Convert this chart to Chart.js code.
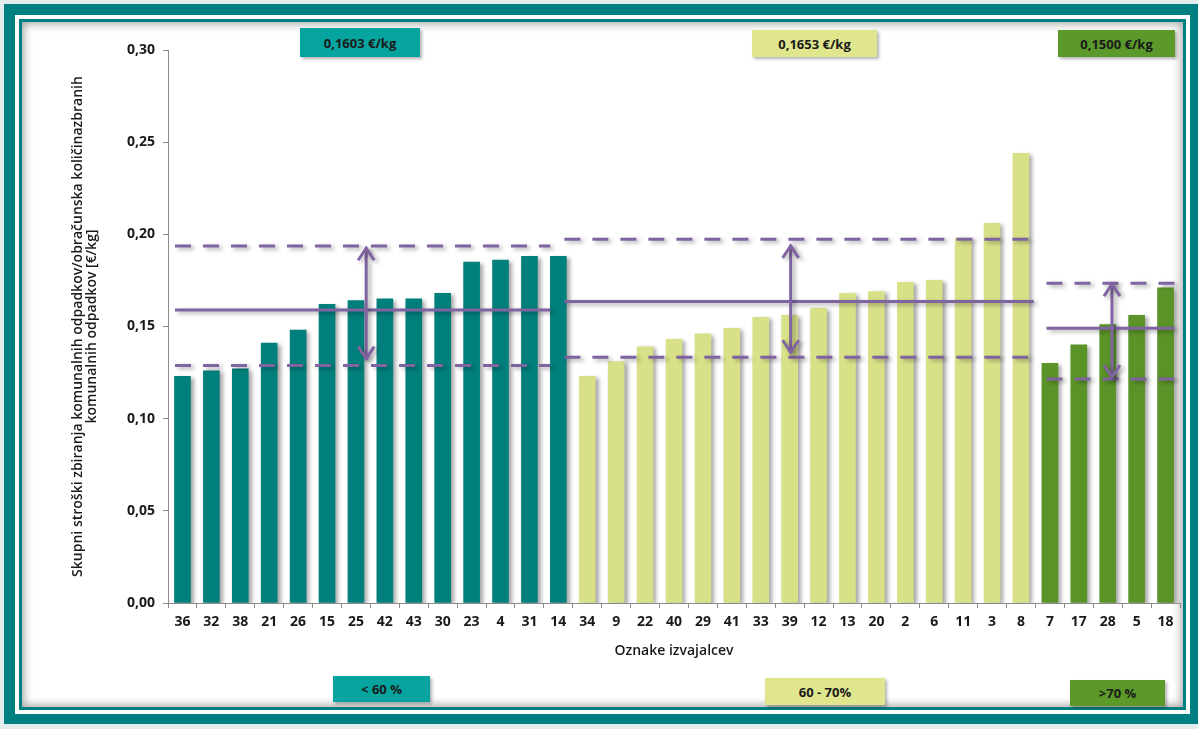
<!DOCTYPE html>
<html>
<head>
  <meta charset="utf-8">
  <title>Skupni stroški zbiranja</title>
  <script src="https://cdn.jsdelivr.net/npm/chart.js@4.4.0/dist/chart.umd.min.js"></script>
  <style>
    body { margin: 0; width: 1198px; height: 729px; background: #e3eded; position: relative; overflow: hidden; font-family: "Open Sans", sans-serif; }
    .frame { position: absolute; }
    #outer { left: 4px; top: 4px; width: 1194px; height: 720px; background: #008080; }
    #gap { left: 15px; top: 15px; width: 1175px; height: 699px; background: #fff; }
    #inner { left: 19px; top: 19px; width: 1161px; height: 685px; border: 3px solid #008080; background: #fff;
      box-shadow: inset 0 0 9px 2px rgba(0, 0, 0, 0.35); }
    #chartBox { position: absolute; left: 0; top: 0; width: 1198px; height: 729px; }
    .tag { position: absolute; display: flex; align-items: center; justify-content: center;
      font: bold 13px "Open Sans", sans-serif; color: #1a1a1a; box-shadow: 2px 2px 3px rgba(0, 0, 0, 0.3); }
  </style>
</head>
<body>
  <div class="frame" id="outer"></div>
  <div class="frame" id="gap"></div>
  <div class="frame" id="inner"></div>

  <!-- group price boxes on top, share boxes at the bottom -->
  <div class="tag" style="left:300px;top:28px;width:120px;height:29px;background:#06a49e">0,1603 €/kg</div>
  <div class="tag" style="left:752px;top:30px;width:125px;height:27px;background:#dfe68e">0,1653 €/kg</div>
  <div class="tag" style="left:1058px;top:30px;width:117px;height:27px;background:#5b9a2a">0,1500 €/kg</div>
  <div class="tag" style="left:333px;top:676px;width:97px;height:26px;background:#06a49e">&lt; 60 %</div>
  <div class="tag" style="left:765px;top:678px;width:120px;height:27px;background:#dfe68e">60 - 70%</div>
  <div class="tag" style="left:1070px;top:680px;width:95px;height:26px;background:#5b9a2a">&gt;70 %</div>

  <div id="chartBox"><canvas id="canvas"></canvas></div>

  <script>
    // producers grouped by share of separately collected waste
    const labelsLow = ['36', '32', '38', '21', '26', '15', '25', '42', '43', '30', '23', '4', '31', '14'];
    const valuesLow = [0.123, 0.126, 0.127, 0.141, 0.148, 0.162, 0.164, 0.165, 0.165, 0.168, 0.185, 0.186, 0.188, 0.188];

    const labelsMid = ['34', '9', '22', '40', '29', '41', '33', '39', '12', '13', '20', '2', '6', '11', '3', '8'];
    const valuesMid = [0.123, 0.131, 0.139, 0.143, 0.146, 0.149, 0.155, 0.156, 0.160, 0.168, 0.169, 0.174, 0.175, 0.198, 0.206, 0.244];

    const labelsHigh = ['7', '17', '28', '5', '18'];
    const valuesHigh = [0.130, 0.140, 0.151, 0.156, 0.171];

    // mean and spread lines per group: [mean, upper, lower]
    const meanLines = [0.159, 0.1635, 0.149];
    const upperLines = [0.1937, 0.1973, 0.1735];
    const lowerLines = [0.1288, 0.1333, 0.1215];
    // horizontal extent of the lines, in category index units
    const lineFrom = [-0.25, 13.6, 30.75];
    const lineTo = [13.1, 30.3, 35.3];
    // double arrows: position (index units) and top / bottom value
    const arrowAt = [6.55, 21.65, 33.08];
    const arrowTop = [0.193, 0.1943, 0.1735];
    const arrowBottom = [0.132, 0.1355, 0.122];

    const groupColors = ['#00807c', '#d8e088', '#5a9428'];
    const purple = '#8064a2';

    const labels = labelsLow.concat(labelsMid, labelsHigh);
    const values = valuesLow.concat(valuesMid, valuesHigh);
    const barColors = labelsLow.map(() => groupColors[0])
      .concat(labelsMid.map(() => groupColors[1]), labelsHigh.map(() => groupColors[2]));

    const datasets = [{
      type: 'bar',
      data: values,
      backgroundColor: barColors,
      barThickness: 16,
      grouped: false,
      order: 2
    }];

    function hLine(y, g, dash) {
      return {
        type: 'line', xAxisID: 'x2',
        data: [{ x: lineFrom[g], y: y }, { x: lineTo[g], y: y }],
        borderColor: purple, borderWidth: 3, borderDash: dash,
        pointRadius: 0, fill: false, order: 1
      };
    }
    for (let g = 0; g < 3; g++) {
      datasets.push(hLine(meanLines[g], g, []));
      datasets.push(hLine(upperLines[g], g, [16, 12]));
      datasets.push(hLine(lowerLines[g], g, [16, 12]));
      datasets.push({
        type: 'line', xAxisID: 'x2', arrow: true,
        data: [{ x: arrowAt[g], y: arrowTop[g] }, { x: arrowAt[g], y: arrowBottom[g] }],
        borderColor: purple, borderWidth: 3, pointRadius: 0, fill: false, order: 0
      });
    }

    // Excel-like drop shadow + arrow heads
    const shadowPlugin = {
      id: 'shadowArrows',
      beforeDatasetsDraw(chart) {
        const ctx = chart.ctx;
        ctx.save();
        ctx.shadowColor = 'rgba(0,0,0,0.35)';
        ctx.shadowOffsetX = 3;
        ctx.shadowOffsetY = 2;
        ctx.shadowBlur = 4;
      },
      afterDatasetsDraw(chart) {
        const ctx = chart.ctx;
        chart.data.datasets.forEach((ds, i) => {
          if (!ds.arrow) return;
          const pts = chart.getDatasetMeta(i).data;
          ctx.strokeStyle = purple;
          ctx.lineWidth = 3;
          ctx.lineJoin = 'miter';
          [[pts[0], 1], [pts[1], -1]].forEach(([p, dir]) => {
            ctx.beginPath();
            ctx.moveTo(p.x - 8, p.y + dir * 13);
            ctx.lineTo(p.x, p.y + dir * 1);
            ctx.lineTo(p.x + 8, p.y + dir * 13);
            ctx.stroke();
          });
        });
        ctx.restore();
      }
    };

    const axisColor = '#8c8c8c';

    new Chart(document.getElementById('canvas'), {
      type: 'bar',
      data: { labels: labels, datasets: datasets },
      options: {
        responsive: true,
        maintainAspectRatio: false,
        animation: false,
        layout: { padding: { left: 70, top: 50, right: 18, bottom: 66 } },
        plugins: { legend: { display: false }, tooltip: { enabled: false } },
        scales: {
          x: {
            type: 'category',
            offset: true,
            grid: { drawOnChartArea: false, offset: true, tickLength: 5, color: axisColor },
            border: { color: axisColor },
            ticks: { color: '#1a1a1a', font: { family: 'Open Sans', size: 14, weight: 'bold' }, padding: 6, maxRotation: 0, autoSkip: false },
            title: { display: true, text: 'Oznake izvajalcev', color: '#1a1a1a', font: { family: 'Open Sans', size: 14, weight: '600' }, padding: { top: 0, bottom: 4 } },
            afterFit(scale) { scale.height = 60; }
          },
          x2: { type: 'linear', display: false, offset: false, min: -0.5, max: 35.5 },
          y: {
            min: 0, max: 0.3,
            grid: { drawOnChartArea: false, tickLength: 5, color: axisColor },
            border: { color: axisColor },
            ticks: {
              stepSize: 0.05, padding: 8, color: '#1a1a1a',
              font: { family: 'Open Sans', size: 14, weight: 'bold' },
              callback: v => v.toFixed(2).replace('.', ',')
            },
            title: {
              display: true,
              text: ['Skupni stroški zbiranja komunalnih odpadkov/obračunska količinazbranih', 'komunalnih odpadkov [€/kg]'],
              color: '#1a1a1a', font: { family: 'Open Sans', size: 14, weight: '600', lineHeight: 1.0 }, padding: { top: 1, bottom: 0 }
            },
            afterFit(scale) { scale.width = 98; }
          }
        }
      },
      plugins: [shadowPlugin]
    });
  </script>
</body>
</html>
